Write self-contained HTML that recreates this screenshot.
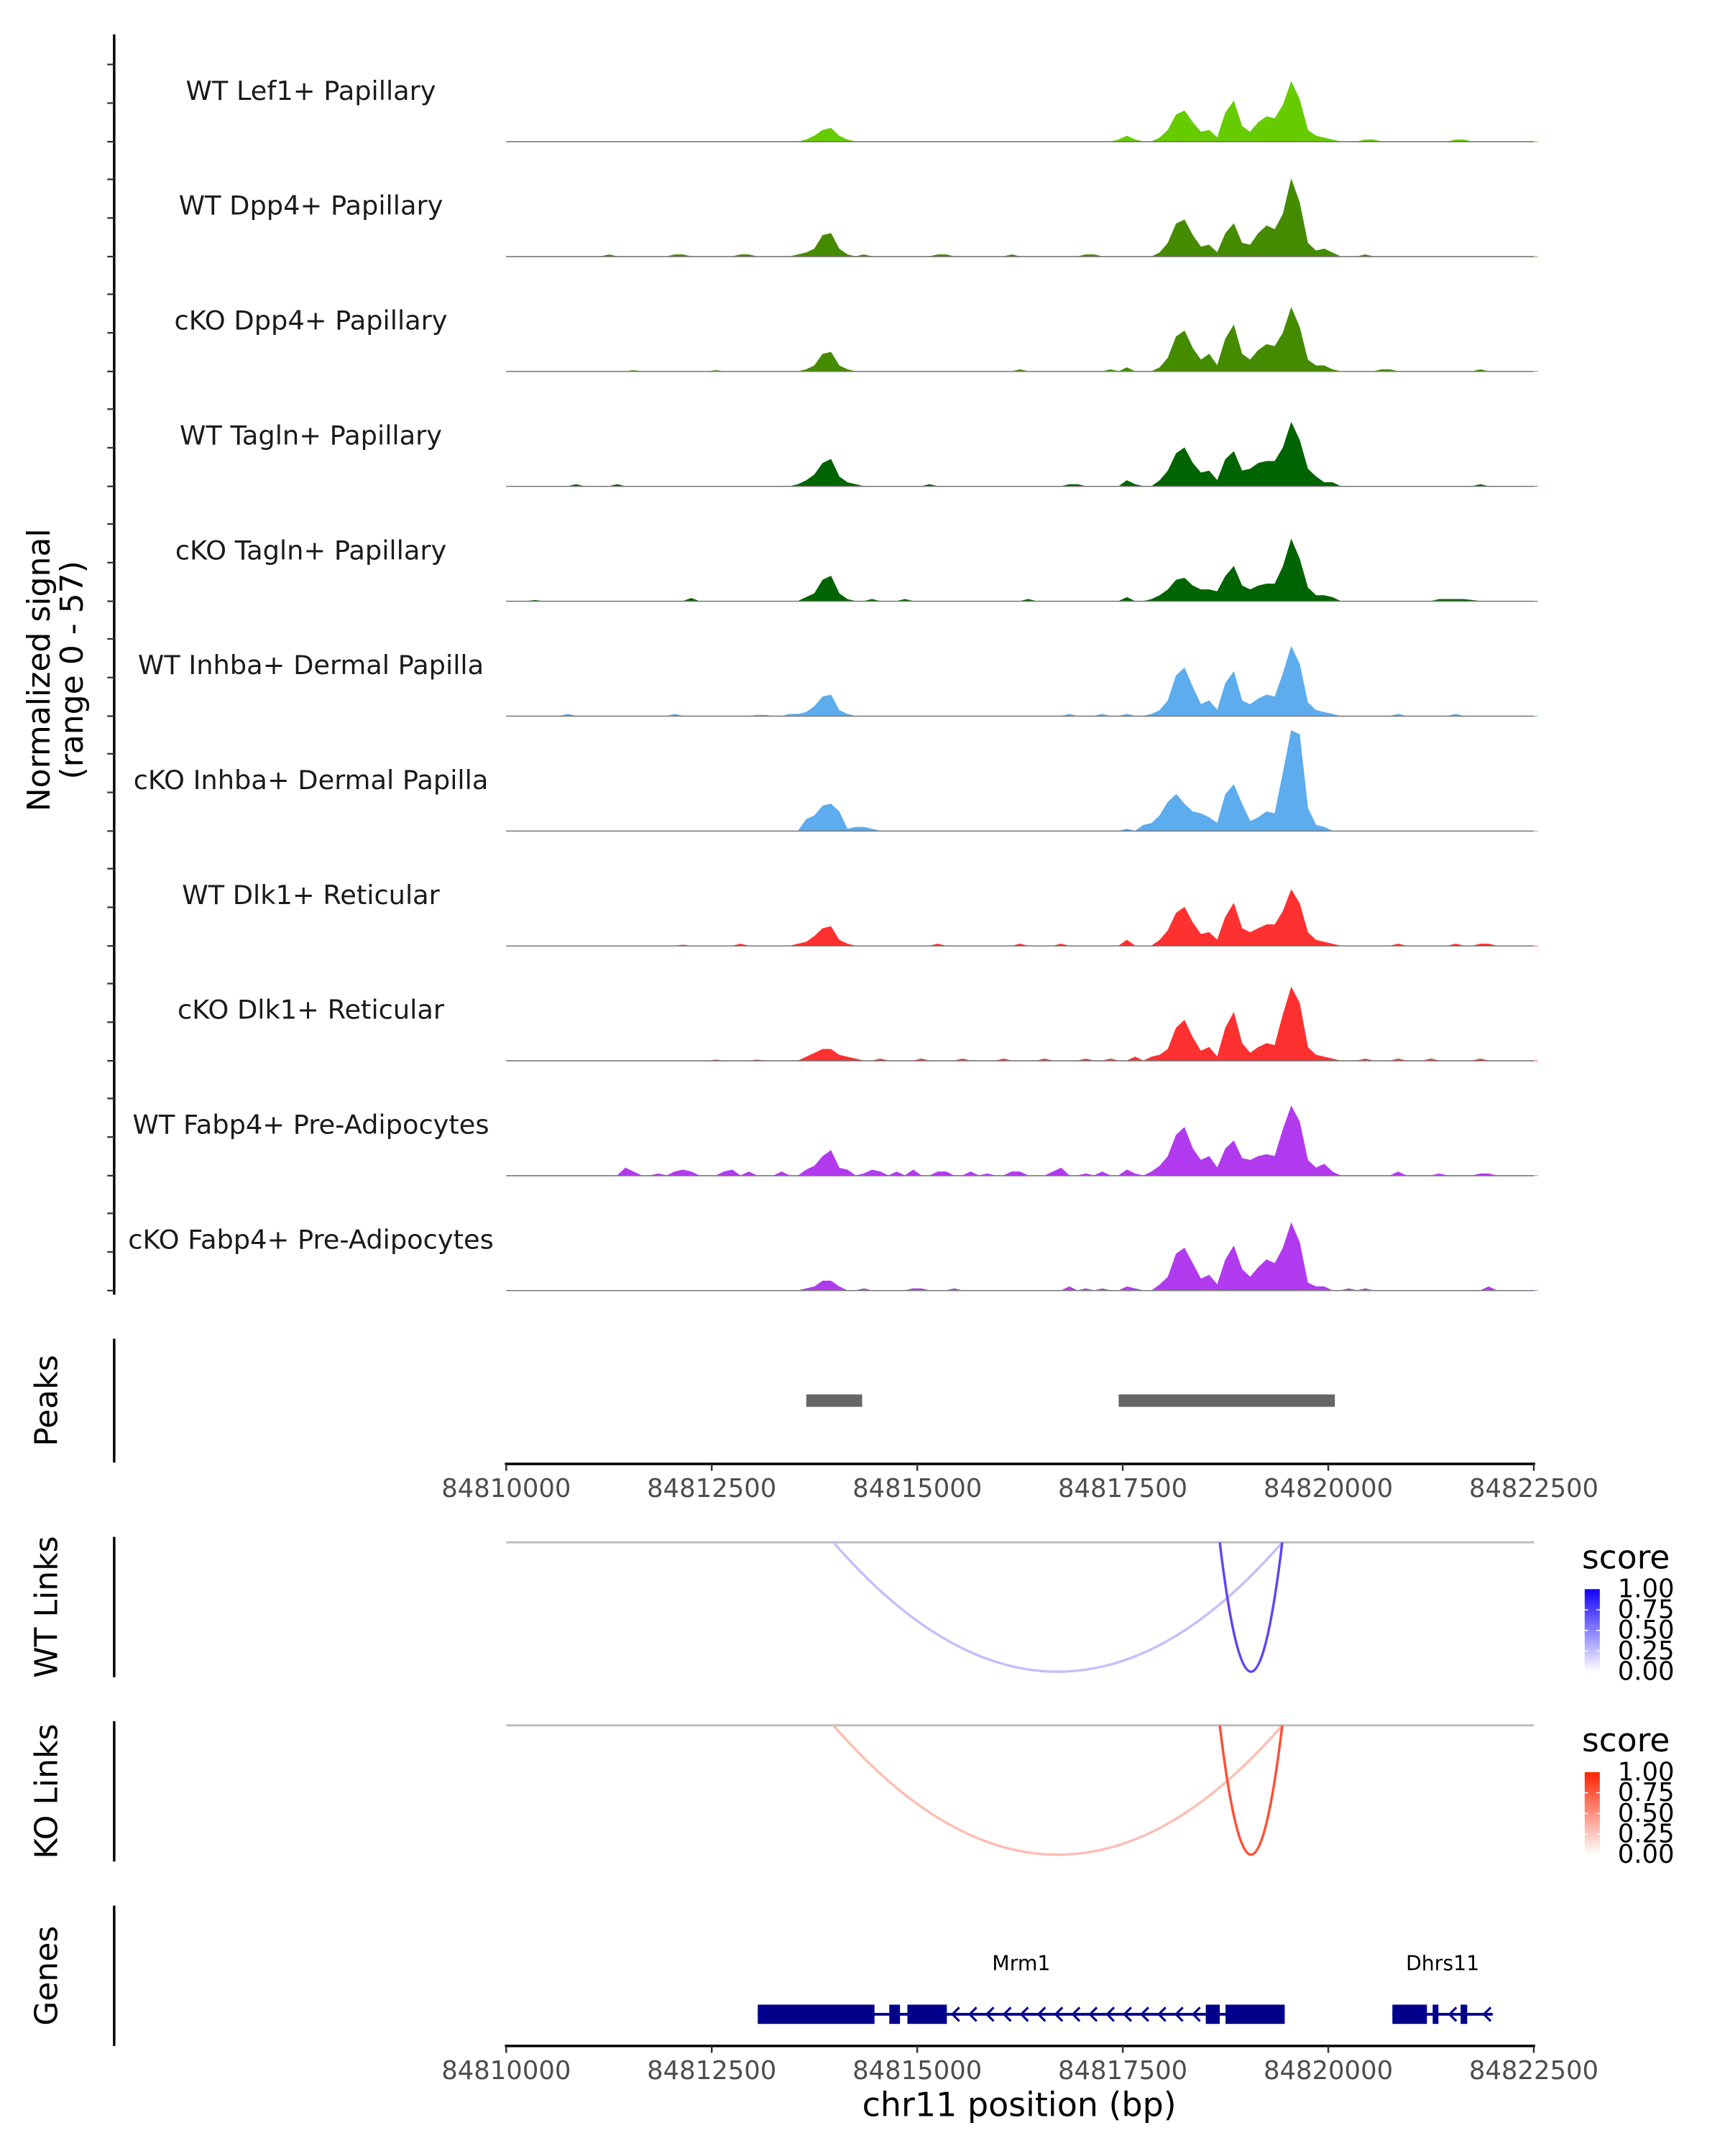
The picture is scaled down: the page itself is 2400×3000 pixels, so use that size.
<!DOCTYPE html>
<html><head><meta charset="utf-8">
<style>
html,body{margin:0;padding:0;background:#fff;}
svg{display:block;}
text{font-family:"DejaVu Sans","Liberation Sans",sans-serif;}
</style></head>
<body>
<svg id="chart" width="2400" height="3000" viewBox="0 0 1254 1567" preserveAspectRatio="none" xmlns="http://www.w3.org/2000/svg">
<defs>
<linearGradient id="gBlue" x1="0" y1="1" x2="0" y2="0"><stop offset="0" stop-color="#ffffff"/><stop offset="1" stop-color="#1100ff"/></linearGradient>
<linearGradient id="gRed" x1="0" y1="1" x2="0" y2="0"><stop offset="0" stop-color="#ffffff"/><stop offset="1" stop-color="#ff2200"/></linearGradient>
</defs>
</svg>
<script>
// ---- data ----
const regionStart = 84810000, regionEnd = 84822500, binSize = 100;
const xTicks = [84810000, 84812500, 84815000, 84817500, 84820000, 84822500];
const trackNames = ["WT Lef1+ Papillary","WT Dpp4+ Papillary","cKO Dpp4+ Papillary","WT Tagln+ Papillary","cKO Tagln+ Papillary","WT Inhba+ Dermal Papilla","cKO Inhba+ Dermal Papilla","WT Dlk1+ Reticular","cKO Dlk1+ Reticular","WT Fabp4+ Pre-Adipocytes","cKO Fabp4+ Pre-Adipocytes"];
const trackColors = ["#66CC00","#458B00","#458B00","#006400","#006400","#5CACEE","#5CACEE","#FF3030","#FF3030","#B23AEE","#B23AEE"];
const yTicks = [0, 20, 40];
const yMax = 57;
const t1 = [0,0,0,0,0,0,0,0,0,0, 0,0,0,0,0,0,0,0,0,0, 0,0,0,0,0,0,0,0,0,0, 0,0,0,0,0,0,1,3,6,7, 3,1,0,0,0,0,0,0,0,0, 0,0,0,0,0,0,0,0,0,0, 0,0,0,0,0,0,0,0,0,0, 0,0,0,0,1,3,1,0,0,2, 6,14,16,10,5,6,2,15,21,8, 5,10,13,12,19,31,22,6,3,2, 1,0,0,0,1,1,0,0,0,0, 0,0,0,0,0,1,1,0,0,0, 0,0,0,0,0,0];
const t2 = [0,0,0,0,0,0,0,0,0,0, 0,0,1,0,0,0,0,0,0,0, 1,1,0,0,0,0,0,0,1,1, 0,0,0,0,0,1,2,4,11,12, 4,1,0,1,0,0,0,0,0,0, 0,0,1,1,0,0,0,0,0,0, 0,1,0,0,0,0,0,0,0,0, 1,1,0,0,0,0,0,0,0,2, 7,17,19,11,5,6,2,12,17,7, 6,12,16,14,22,40,28,7,3,4, 2,0,0,0,1,0,0,0,0,0, 0,0,0,0,0,0,0,0,0,0, 0,0,0,0,0,0];
const t3 = [0,0,0,0,0,0,0,0,0,0, 0,0,0,0,0,0.5,0,0,0,0, 0,0,0,0,0,0.5,0,0,0,0, 0,0,0,0,0,0,1,3,9,10, 3,1,0,0,0,0,0,0,0,0, 0,0,0,0,0,0,0,0,0,0, 0,0,1,0,0,0,0,0,0,0, 0,0,0,1,0,2,0,0,0,2, 7,18,21,12,6,9,3,17,24,9, 6,11,14,13,20,33,23,6,3,3, 1,0,0,0,0,0,1,1,0,0, 0,0,0,0,0,0,0,0,1,0, 0,0,0,0,0,0];
const t4 = [0,0,0,0,0,0,0,0,1,0, 0,0,0,1,0,0,0,0,0,0, 0,0,0,0,0,0,0,0,0,0, 0,0,0,0,0,1,3,6,12,14, 5,2,1,0,0,0,0,0,0,0, 0,1,0,0,0,0,0,0,0,0, 0,0,0,0,0,0,0,0,1,1, 0,0,0,0,0,3,1,0,0,3, 8,17,20,12,7,8,3,14,18,8, 9,12,13,13,20,33,24,9,5,2, 2,0,0,0,0,0,0,0,0,0, 0,0,0,0,0,0,0,0,1,0, 0,0,0,0,0,0];
const t5 = [0,0,0,0.5,0,0,0,0,0,0, 0,0,0,0,0,0,0,0,0,0, 0,0,1.5,0,0,0,0,0,0,0, 0,0,0,0,0,0,2,4,11,13, 4,1,0,0,1,0,0,0,1,0, 0,0,0,0,0,0,0,0,0,0, 0,0,0,1,0,0,0,0,0,0, 0,0,0,0,0,2,0,0,1,3, 6,11,12,8,6,6,5,13,18,8, 6,8,9,9,18,32,22,7,3,3, 2,0,0,0,0,0,0,0,0,0, 0,0,0,1,1,1,1,0.5,0,0, 0,0,0,0,0,0];
const t6 = [0,0,0,0,0,0,0,1,0,0, 0,0,0,0,0,0,0,0,0,0, 1,0,0,0,0,0,0,0,0,0, 0.5,0.5,0,0,1,1,2,5,10,11, 3,1,0,0,0,0,0,0,0,0, 0,0,0,0,0,0,0,0,0,0, 0,0,0,0,0,0,0,0,1,0, 0,0,1,0,0,1,0,0,1,3, 8,21,25,15,6,8,3,17,23,8, 6,9,11,10,22,36,27,7,3,2, 1,0,0,0,0,0,0,0,1,0, 0,0,0,0,0,1,0,0,0,0, 0,0,0,0,0,0];
const t7 = [0,0,0,0,0,0,0,0,0,0, 0,0,0,0,0,0,0,0,0,0, 0,0,0,0,0,0,0,0,0,0, 0,0,0,0,0,0,6,8,13,14, 10,1,2,2,1,0,0,0,0,0, 0,0,0,0,0,0,0,0,0,0, 0,0,0,0,0,0,0,0,0,0, 0,0,0,0,0,1,0,3,4,8, 15,19,14,10,9,7,4,19,24,14, 5,7,10,9,30,52,50,12,3,2, 0,0,0,0,0,0,0,0,0,0, 0,0,0,0,0,0,0,0,0,0, 0,0,0,0,0,0];
const t8 = [0,0,0,0,0,0,0,0,0,0, 0,0,0,0,0,0,0,0,0,0, 0,0.5,0,0,0,0,0,0,1,0, 0,0,0,0,0,1,2,5,9,10, 3,1,0,0,0,0,0,0,0,0, 0,0,1,0,0,0,0,0,0,0, 0,0,1,0,0,0,0,1,0,0, 0,0,0,0,0,3,0,0,0,3, 8,17,20,12,6,7,3,15,22,9, 7,9,11,11,18,29,22,7,3,2, 1,0,0,0,0,0,0,0,1,0, 0,0,0,0,0,1,0,0,1,1, 0,0,0,0,0,0];
const t9 = [0,0,0,0,0,0,0,0,0,0, 0,0,0,0,0,0,0,0,0,0, 0,0,0,0,0,0.5,0,0,0,0, 0.5,0,0,0,0,0,2,4,6,6, 3,2,1,0,0,1,0,0,0,0, 1,0,0,0,0,1,0,0,0,0, 1,0,0,0,0,1,0,0,0,0, 1,0,0,1,0,0,2,0,2,3, 6,17,21,12,5,7,2,17,25,9, 4,7,9,8,24,38,30,7,3,2, 1,0,0,0,1,0,0,0,1,0, 0,0,1,0,0,0,0,0,1,0, 0,0,0,0,0,0];
const t10 = [0,0,0,0,0,0,0,0,0,0, 0,0,0,0,4,2,0,0,1,0, 2,3,2,0,0,0,2,3,0,2, 0,0,0,2,0,0,3,5,10,13, 4,3,0,1,3,2,0,2,0,3, 0,0,2,2,0,0,2,0,1,0, 0,2,2,0,0,0,2,4,0,0, 1,0,2,0,0,3,1,0,2,5, 10,21,25,14,8,10,4,14,18,9, 8,10,11,10,24,36,28,8,4,6, 2,0,0,0,0,0,0,0,2,0, 0,0,0,1,0,0,0,0,1,1, 0,0,0,0,0,0];
const t11 = [0,0,0,0,0,0,0,0,0,0, 0,0,0,0,0,0,0,0,0,0, 0,0,0,0,0,0,0,0,0,0, 0,0,0,0,0,0,1,2,5,5, 2,0,0,1,0,0,0,0,0,1, 1,0,0,0,1,0,0,0,0,0, 0,0,0,0,0,0,0,0,2,0, 1,0,1,0,0,2,1,0,0,3, 7,19,22,14,6,8,3,16,23,11, 7,12,16,14,22,35,25,4,2,2, 0,0,1,0,1,0,0,0,0,0, 0,0,0,0,0,0,0,0,0,2, 0,0,0,0,0,0];
const peakStarts = [84813650, 84817450];
const peakEnds = [84814330, 84820080];
const linkStarts = [84813980, 84818680];
const linkEnds = [84819440, 84819440];
const wtScores = [0.28, 0.8];
const koScores = [0.3, 0.8];
const legendTicks = ["0.00","0.25","0.50","0.75","1.00"];
const geneNames = ["Mrm1","Dhrs11"];
const geneStarts = [84813060, 84820780];
const geneEnds = [84819470, 84822000];
const mrm1ExonStarts = [84813060, 84814660, 84814880, 84818510, 84818750];
const mrm1ExonEnds = [84814480, 84814790, 84815360, 84818680, 84819470];
const dhrs11ExonStarts = [84820780, 84821270, 84821610];
const dhrs11ExonEnds = [84821200, 84821340, 84821690];
const tracks = [t1,t2,t3,t4,t5,t6,t7,t8,t9,t10,t11];

// ---- layout ----
const NS = "http://www.w3.org/2000/svg";
const svg = document.getElementById("chart");
const X0 = 368, X1 = 1115;
const xs = bp => X0 + (bp - regionStart) / (regionEnd - regionStart) * (X1 - X0);
const TRACK_H = 80;
const ys = (v, base) => base - v / yMax * TRACK_H;
const baseFirst = 103, baseStep = 83.5;
function mk(tag, attrs, parent) {
  const e = document.createElementNS(NS, tag);
  for (const k in attrs) e.setAttribute(k, attrs[k]);
  (parent || svg).appendChild(e);
  return e;
}
function txt(s, attrs, parent) { const e = mk("text", attrs, parent); e.textContent = s; return e; }

const covAxis = mk("g", {});


mk("line", {x1:83, y1:25, x2:83, y2:941, stroke:"#000", "stroke-width":1.8}, covAxis);
tracks.forEach((t, k) => {
  const base = baseFirst + k * baseStep;
  yTicks.forEach(v => {
    const tk = mk("line", {x1:78, x2:83, y1:ys(v, base), y2:ys(v, base), stroke:"#333", "stroke-width":1.2}, covAxis);
    
    
  });
});
const yt = txt("", {transform:"translate(42,487) rotate(-90)", "text-anchor":"middle", "font-size":23, fill:"#000"});


const ts1 = mk("tspan", {x:0, dy:-6}, yt); ts1.textContent = "Normalized signal";
const ts2 = mk("tspan", {x:0, dy:24}, yt); ts2.textContent = "(range 0 - 57)";

tracks.forEach((vals, k) => {
  const base = baseFirst + k * baseStep;
  const g = mk("g", {});
  
  
  let d = `M${xs(regionStart)},${base}`;
  vals.forEach((v, i) => {
    const x = xs(regionStart + i * binSize + binSize / 2);
    d += ` L${x.toFixed(2)},${ys(v, base).toFixed(2)}`;
  });
  d += ` L${xs(regionEnd)},${base} Z`;
  const area = mk("path", {d, fill:trackColors[k], stroke:trackColors[k], "stroke-width":0.4}, g);
  
  
  const bl = mk("line", {x1:X0, x2:X1, y1:base, y2:base, stroke:"#777", "stroke-width":0.8}, g);
  
  
  const lb = txt(trackNames[k], {x:226, y:base - 37, "text-anchor":"middle", "dominant-baseline":"central", "font-size":19.2, fill:"#1a1a1a"}, g);
  
  
});

function panel(name, title, y1, y2) {
  const g = mk("g", {});
  
  
  mk("line", {x1:83, x2:83, y1, y2, stroke:"#000", "stroke-width":1.8}, g);
  const t = txt(title, {transform:`translate(34,${(y1 + y2) / 2}) rotate(-90)`, "text-anchor":"middle", "dominant-baseline":"central", "font-size":23, fill:"#000"}, g);
  
  
  return g;
}
const pk = panel("peaks-panel", "Peaks", 973, 1063);
peakStarts.forEach((s, i) => {
  const r = mk("rect", {x:xs(s), y:1013.5, width:xs(peakEnds[i]) - xs(s), height:9, fill:"#666"}, pk);
  
  
});

function xAxis(y, name) {
  const g = mk("g", {});
  
  
  mk("line", {x1:X0 - 1, x2:X1 + 1, y1:y, y2:y, stroke:"#000", "stroke-width":1.8}, g);
  xTicks.forEach(v => {
    mk("line", {x1:xs(v), x2:xs(v), y1:y, y2:y + 5, stroke:"#333", "stroke-width":1.3}, g);
    const t = txt(String(v), {x:xs(v), y:y + 24, "text-anchor":"middle", "font-size":18.5, fill:"#4d4d4d"}, g);
    
    
  });
}
xAxis(1064, "peaks-x-axis");

function linkPanel(name, title, top, scores, grad, endColor, y1, y2) {
  const g = panel(name, title, y1, y2);
  mk("line", {x1:X0, x2:X1, y1:top, y2:top, stroke:"#bdbdbd", "stroke-width":1.6}, g);
  const depth = 94;
  linkStarts.forEach((s, i) => {
    const a = xs(s), b = xs(linkEnds[i]);
    const sc = scores[i];
    const col = `rgb(${Math.round(255 + (endColor[0] - 255) * sc)},${Math.round(255 + (endColor[1] - 255) * sc)},${Math.round(255 + (endColor[2] - 255) * sc)})`;
    const p = mk("path", {d:`M${a},${top} Q${(a + b) / 2},${top + 2 * depth} ${b},${top}`, fill:"none", stroke:col, "stroke-width":1.8}, g);
    
    
  });
  const lg = mk("g", {}, g);
  
  
  txt("score", {x:1150, y:top + 19, "font-size":23.8, fill:"#000"}, lg);
  const ly0 = top + 94, ly1 = top + 34;
  mk("rect", {x:1152, y:ly1, width:11, height:ly0 - ly1, fill:`url(#${grad})`}, lg);
  legendTicks.forEach((l, i) => {
    const yy = ly0 - i * (ly0 - ly1) / 4;
    if (i > 0 && i < 4) {
      mk("line", {x1:1152, x2:1154.5, y1:yy, y2:yy, stroke:"#fff", "stroke-width":0.8}, lg);
      mk("line", {x1:1160.5, x2:1163, y1:yy, y2:yy, stroke:"#fff", "stroke-width":0.8}, lg);
    }
    txt(l, {x:1176, y:yy, "dominant-baseline":"central", "font-size":18.5, fill:"#000"}, lg);
  });
}
linkPanel("wt-links-panel", "WT Links", 1121, wtScores, "gBlue", [60, 20, 240], 1117, 1219);
linkPanel("ko-links-panel", "KO Links", 1254, koScores, "gRed", [255, 34, 0], 1251, 1353);

const gp = panel("genes-panel", "Genes", 1385, 1487);
const GY = 1464, EH = 14, GC = "#00008B";
function drawGene(i, exS, exE) {
  const g = mk("g", {}, gp);
  
  
  const a = xs(geneStarts[i]), b = xs(geneEnds[i]);
  mk("line", {x1:a, x2:b, y1:GY, y2:GY, stroke:GC, "stroke-width":2}, g);
  for (let x = a + 6; x < b - 2; x += 12.5) {
    let inExon = false;
    exS.forEach((s, j) => { if (x > xs(s) - 3 && x < xs(exE[j]) + 3) inExon = true; });
    if (inExon) continue;
    mk("path", {d:`M${x + 3},${GY - 5} L${x - 2},${GY} L${x + 3},${GY + 5}`, fill:"none", stroke:GC, "stroke-width":1.6}, g);
  }
  exS.forEach((s, j) => {
    const r = mk("rect", {x:xs(s), y:GY - EH / 2, width:xs(exE[j]) - xs(s), height:EH, fill:GC}, g);
    
    
  });
  const lb = txt(geneNames[i], {x:(a + b) / 2, y:1432, "text-anchor":"middle", "font-size":14.8, fill:"#000"}, g);
  
  
}
drawGene(0, mrm1ExonStarts, mrm1ExonEnds);
drawGene(1, dhrs11ExonStarts, dhrs11ExonEnds);
xAxis(1487, "genes-x-axis");
const xt = txt("chr11 position (bp)", {x:741, y:1538, "text-anchor":"middle", "font-size":24, fill:"#000"});


</script>
</body></html>
